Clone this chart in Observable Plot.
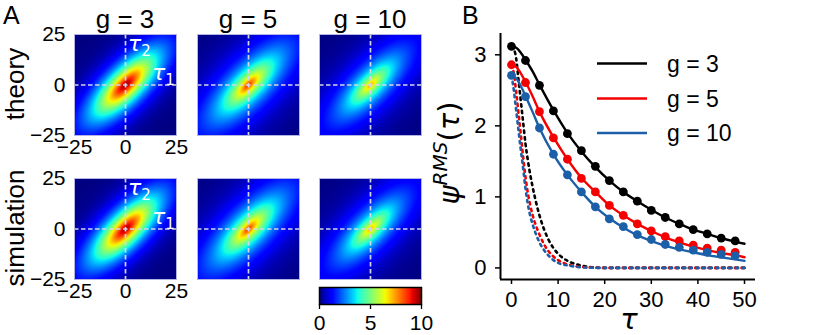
<!DOCTYPE html>
<html><head><meta charset="utf-8">
<script src="https://cdn.jsdelivr.net/npm/d3@7"></script>
<script src="https://cdn.jsdelivr.net/npm/@observablehq/plot@0.6"></script>
<style>
body{margin:0;background:#fff;}
#fig{position:relative;width:830px;height:335px;overflow:hidden;font-family:"Liberation Sans",Arial,sans-serif;color:#000;background:#fff;}
#fig svg{position:absolute;}
</style></head><body><div id="fig"></div>
<script>
// ---------------- data ----------------
const gLabels = ["g = 3", "g = 5", "g = 10"];
const rowNames = ["theory", "simulation"];
// heatmap field parameters per g (columns)
const peakTheory = [9.9, 9.0, 7.6];
const peakSimulation = [9.8, 8.9, 7.5];
const lengthAlong = [20.4, 18.5, 17.5];
const lengthAcross = [7.7, 7.0, 6.5];
const decayShape = [1.35, 1.0, 1.0];
const heatDomain = [-25, 25];
const heatTicks = [-25, 0, 25];
const colorbarDomain = [0, 10];
const colorbarTicks = [0, 5, 10];

// panel B
const xDomainB = [-2.36, 52.36];
const yDomainB = [-0.163, 3.30];
const xTicksB = [0, 10, 20, 30, 40, 50];
const yTicksB = [0, 1, 2, 3];
const seriesColors = ["#000000", "#f50000", "#1b5fa8"];

const tauDots = [0, 3, 6, 9, 12, 15, 18, 21, 24, 27, 30, 33, 36, 39, 42, 45, 48];
const simG3 = [3.12, 2.92, 2.57, 2.21, 1.89, 1.65, 1.43, 1.23, 1.07, 0.94, 0.81, 0.71, 0.62, 0.54, 0.48, 0.42, 0.38];
const simG5 = [2.86, 2.61, 2.20, 1.83, 1.53, 1.26, 1.07, 0.88, 0.74, 0.62, 0.52, 0.44, 0.38, 0.32, 0.28, 0.25, 0.22];
const simG10 = [2.71, 2.41, 1.97, 1.60, 1.31, 1.07, 0.86, 0.69, 0.58, 0.47, 0.40, 0.33, 0.29, 0.25, 0.22, 0.19, 0.17];

const tauTheory = [0, 1, 2, 3, 4.5, 6, 9, 12, 15, 18, 21, 24, 27, 30, 33, 36, 39, 42, 45, 48, 50];
const theoryG3 = [3.12, 3.10, 3.03, 2.93, 2.77, 2.58, 2.22, 1.90, 1.64, 1.42, 1.23, 1.07, 0.94, 0.82, 0.71, 0.62, 0.54, 0.48, 0.42, 0.37, 0.34];
const theoryG5 = [2.86, 2.83, 2.74, 2.62, 2.42, 2.20, 1.84, 1.53, 1.27, 1.07, 0.88, 0.74, 0.62, 0.52, 0.43, 0.36, 0.30, 0.25, 0.21, 0.18, 0.15];
const theoryG10 = [2.71, 2.67, 2.56, 2.42, 2.20, 1.97, 1.60, 1.31, 1.07, 0.86, 0.70, 0.57, 0.46, 0.38, 0.31, 0.26, 0.22, 0.18, 0.15, 0.12, 0.10];

const tauDotted = [0, 0.5, 1, 1.5, 2, 2.5, 3, 3.5, 4, 4.5, 5, 6, 7, 8, 9, 10, 12, 14, 16, 20, 30, 40, 50];
const dottedG3 = [3.12, 3.08, 2.95, 2.65, 2.35, 2.05, 1.75, 1.52, 1.32, 1.15, 1.00, 0.74, 0.54, 0.39, 0.28, 0.20, 0.10, 0.05, 0.02, 0, 0, 0, 0];
const dottedG5 = [2.86, 2.74, 2.48, 2.18, 1.88, 1.56, 1.28, 1.06, 0.89, 0.75, 0.64, 0.47, 0.33, 0.23, 0.16, 0.11, 0.05, 0.02, 0.01, 0, 0, 0, 0];
const dottedG10 = [2.71, 2.50, 2.22, 1.94, 1.66, 1.40, 1.12, 0.90, 0.74, 0.62, 0.52, 0.36, 0.25, 0.17, 0.11, 0.07, 0.035, 0.015, 0.005, 0, 0, 0, 0];

// ---------------- helpers ----------------
function jet(t) {
  t = Math.max(0, Math.min(1, t));
  const r = t < 0.35 ? 0 : t < 0.66 ? (t - 0.35) / 0.31 : t < 0.89 ? 1 : 1 - 0.5 * (t - 0.89) / 0.11;
  const g = t < 0.125 ? 0 : t < 0.375 ? (t - 0.125) / 0.25 : t < 0.64 ? 1 : t < 0.91 ? 1 - (t - 0.64) / 0.27 : 0;
  const b = t < 0.11 ? 0.5 + 0.5 * t / 0.11 : t < 0.34 ? 1 : t < 0.65 ? 1 - (t - 0.34) / 0.31 : 0;
  return `rgb(${Math.round(r * 255)},${Math.round(g * 255)},${Math.round(b * 255)})`;
}
const FONT = "Liberation Sans, Arial, sans-serif";
const MATH = "DejaVu Sans";
const colorScale = {type: "linear", domain: colorbarDomain, interpolate: jet, clamp: true};
const fig = document.getElementById("fig");
function place(svg, left, top) { svg.style.left = left + "px"; svg.style.top = top + "px"; fig.appendChild(svg); }
const baseStyle = {overflow: "visible", fontFamily: FONT, color: "#000", background: "transparent"};

// ---------------- panel A ----------------
const colX = [74, 197, 319], rowY = [34, 178], cell = 102;
rowNames.forEach((rowName, row) => {
  gLabels.forEach((gl, col) => {
    const peak = (row === 0 ? peakTheory : peakSimulation)[col];
    const la = lengthAlong[col], lb = lengthAcross[col], p = decayShape[col];
    const field = (x, y) => {
      const u = (x + y) / Math.SQRT2, v = (y - x) / Math.SQRT2;
      return peak * Math.exp(-Math.pow(Math.hypot(u / la, v / lb), p));
    };
    const first = col === 0;
    const svg = Plot.plot({
      width: cell, height: 101, margin: 0,
      style: {...baseStyle, fontSize: "21px"},
      x: {domain: heatDomain, axis: first ? "bottom" : null, ticks: heatTicks, tickSize: 0, tickPadding: 4, label: null},
      y: {domain: heatDomain, axis: first ? "left" : null, ticks: heatTicks, tickSize: 0, tickPadding: 9, label: null},
      color: colorScale,
      marks: [
        Plot.raster({x1: heatDomain[0], x2: heatDomain[1], y1: heatDomain[0], y2: heatDomain[1], fill: field, imageRendering: "auto"}),
        Plot.ruleX([0], {stroke: "#d6d6e6", strokeWidth: 1.7, strokeDasharray: "4.5,2.5"}),
        Plot.ruleY([0], {stroke: "#d6d6e6", strokeWidth: 1.7, strokeDasharray: "4.5,2.5"}),
        Plot.frame({stroke: "#b4b4e4", strokeWidth: 1})
      ]
    });
    place(svg, colX[col], rowY[row]);
  });
});

// colorbar
const cb = Plot.plot({
  width: cell, height: 17, margin: 0,
  style: {...baseStyle, fontSize: "21px"},
  x: {domain: colorbarDomain, label: null},
  y: {domain: [0, 1], axis: null},
  color: colorScale,
  marks: [
    Plot.raster({x1: colorbarDomain[0], x2: colorbarDomain[1], y1: 0, y2: 1, fill: (x) => x, imageRendering: "auto"}),
    Plot.frame({stroke: "#000", strokeWidth: 1.5}),
    Plot.axisX({ticks: colorbarTicks, tickSize: 5, tickPadding: 6, strokeWidth: 1.3, label: null})
  ]
});
place(cb, 319, 287);

// ---------------- panel B ----------------
const simSeries = [simG3, simG5, simG10];
const theorySeries = [theoryG3, theoryG5, theoryG10];
const dottedSeries = [dottedG3, dottedG5, dottedG10];
const simData = gLabels.flatMap((g, i) => tauDots.map((t, j) => ({tau: t, v: simSeries[i][j], g})));
const theoryData = gLabels.flatMap((g, i) => tauTheory.map((t, j) => ({tau: t, v: theorySeries[i][j], g})));
const dottedData = gLabels.flatMap((g, i) => tauDotted.map((t, j) => ({tau: t, v: dottedSeries[i][j], g})));

const B = Plot.plot({
  width: 390, height: 335, marginLeft: 60, marginRight: 75, marginTop: 33, marginBottom: 56,
  style: {...baseStyle, fontSize: "22px"},
  x: {domain: xDomainB, label: null},
  y: {domain: yDomainB, label: null},
  color: {domain: gLabels, range: seriesColors},
  marks: [
    Plot.axisX({ticks: xTicksB, tickFormat: "d", tickSize: 5, tickPadding: 7, strokeWidth: 1.5, label: null}),
    Plot.axisY({ticks: yTicksB, tickFormat: "d", tickSize: 5, tickPadding: 9, strokeWidth: 1.5, label: null}),
    Plot.line(dottedData, {x: "tau", y: "v", z: "g", stroke: "g", strokeWidth: 2.6, strokeDasharray: "2.4,4.2", curve: "monotone-x"}),
    Plot.line(theoryData, {x: "tau", y: "v", z: "g", stroke: "g", strokeWidth: 2.4, curve: "monotone-x"}),
    Plot.dot(simData, {x: "tau", y: "v", fill: "g", r: 4.4}),
    Plot.ruleX([xDomainB[0]], {strokeWidth: 2}),
    Plot.ruleY([yDomainB[0]], {strokeWidth: 2})
  ]
});
place(B, 440, 0);

// ---------------- annotations (text overlay) ----------------
const ov = d3.select(fig).append("svg").attr("width", 830).attr("height", 335)
  .style("left", "0px").style("top", "0px").style("font-family", FONT).attr("fill", "#000");
ov.append("text").attr("x", 3).attr("y", 24).attr("font-size", 25).text("A");
ov.append("text").attr("x", 462).attr("y", 24).attr("font-size", 25).text("B");
gLabels.forEach((gl, col) => {
  ov.append("text").attr("x", colX[col] + cell / 2).attr("y", 28).attr("text-anchor", "middle").attr("font-size", 26).text(gl);
});
rowNames.forEach((rn, row) => {
  ov.append("text").attr("transform", `translate(24,${rowY[row] + 50}) rotate(-90)`)
    .attr("text-anchor", "middle").attr("font-size", 26).text(rn);
  // tau annotations on first column
  const t2 = ov.append("text").attr("x", colX[0] + 54).attr("y", rowY[row] + 17).attr("fill", "#fff").attr("font-size", 22).style("font-family", MATH);
  t2.append("tspan").attr("font-style", "italic").text("τ");
  t2.append("tspan").attr("font-size", 15).attr("dy", 5).text("2");
  const t1 = ov.append("text").attr("x", colX[0] + 78).attr("y", rowY[row] + 46).attr("fill", "#fff").attr("font-size", 22).style("font-family", MATH);
  t1.append("tspan").attr("font-style", "italic").text("τ");
  t1.append("tspan").attr("font-size", 15).attr("dy", 5).text("1");
});
// B axis labels
const yl = ov.append("text").attr("transform", "translate(459,153) rotate(-90)").attr("text-anchor", "middle").attr("font-size", 29).style("font-family", MATH);
yl.append("tspan").attr("font-style", "italic").text("ψ");
yl.append("tspan").attr("font-style", "italic").attr("font-size", 20).attr("dy", -12).text("RMS");
yl.append("tspan").attr("dy", 12).text("(");
yl.append("tspan").attr("font-style", "italic").text("τ");
yl.append("tspan").text(")");
ov.append("text").attr("x", 629).attr("y", 329).attr("text-anchor", "middle").attr("font-size", 29).attr("font-style", "italic").style("font-family", MATH).text("τ");
// legend
const legY = [63.5, 98.5, 133];
gLabels.forEach((gl, i) => {
  ov.append("line").attr("x1", 597).attr("x2", 647).attr("y1", legY[i]).attr("y2", legY[i])
    .attr("stroke", seriesColors[i]).attr("stroke-width", 2.5);
  ov.append("text").attr("x", 667).attr("y", legY[i] + 8).attr("font-size", 23).text(gl);
});
</script></body></html>
